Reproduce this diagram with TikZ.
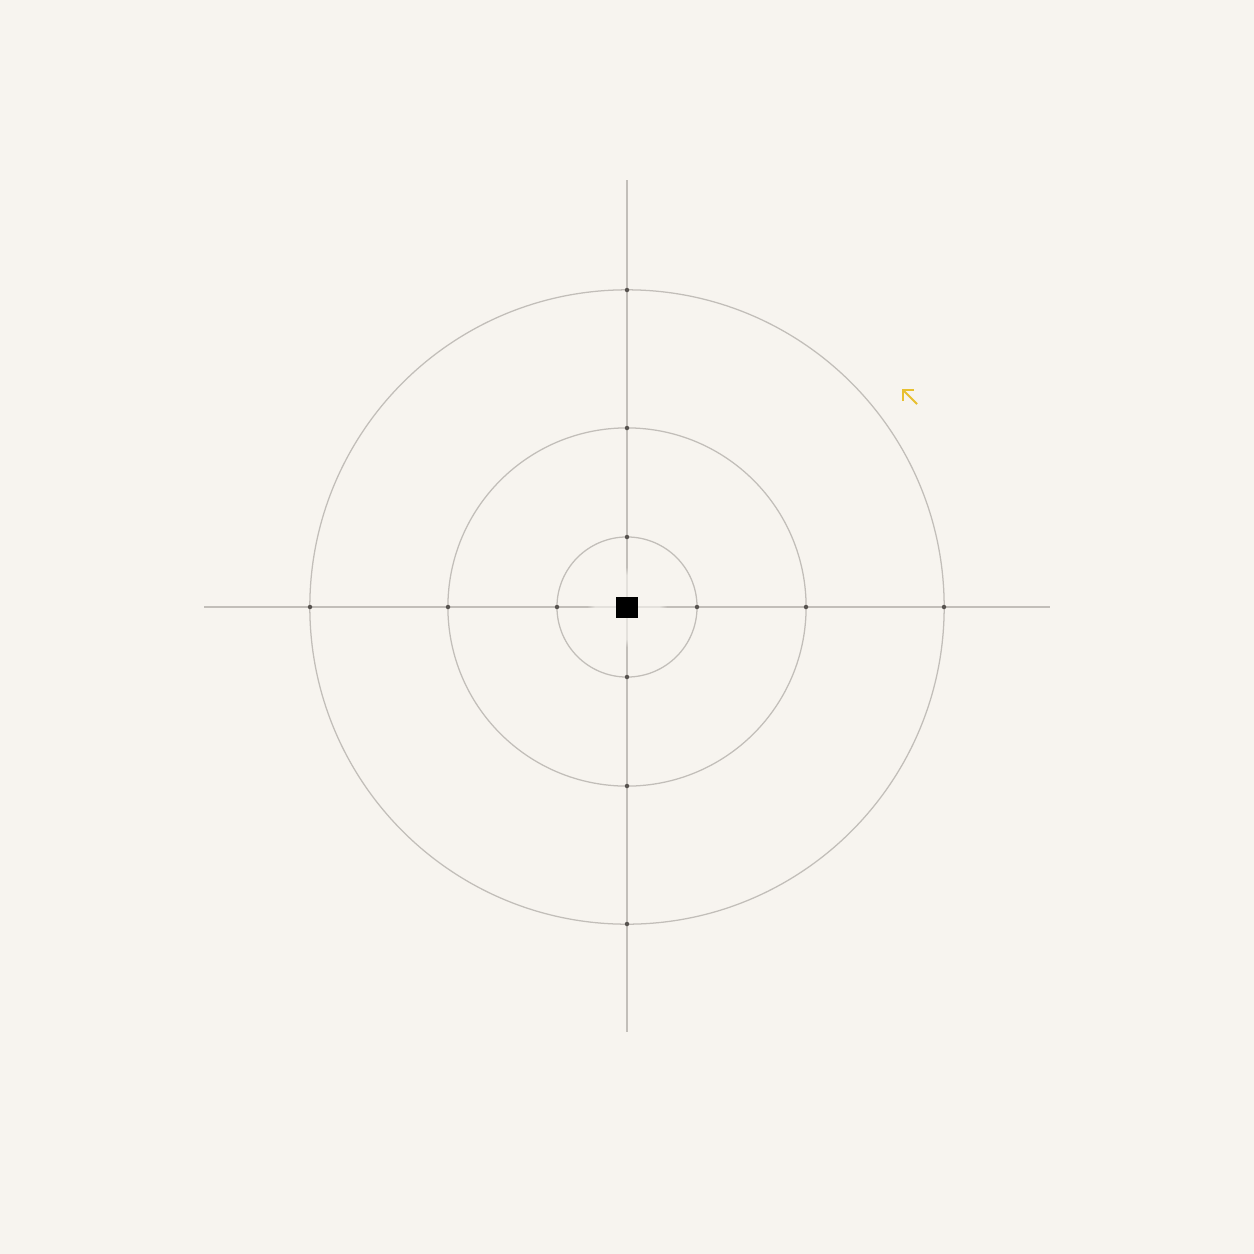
\documentclass[tikz,border=0pt]{standalone}
\usepackage{xcolor}
\usepackage{tikz}
\usetikzlibrary{positioning,calc,arrows.meta,fadings}

\definecolor{paper}{HTML}{F7F4EF}
\definecolor{ringgray}{HTML}{C2BEB9}
\definecolor{dotgray}{HTML}{57534F}
\definecolor{goldmark}{HTML}{E8C030}

\begin{document}
\begin{tikzpicture}[
        x=0.01cm, y=-0.01cm,
        axis/.style={draw=ringgray, line width=0.32pt},
        ring/.style={draw=ringgray, line width=0.36pt},
        tick/.style={circle, fill=dotgray, inner sep=0pt, minimum size=0.045cm},
        target/.style={rectangle, fill=black, inner sep=0pt, minimum size=0.21cm},
        pointer/.style={-{Straight Barb[angle=90:0.11cm]}, draw=goldmark, line width=0.6pt}
      ]
        % Canvas
        \fill[paper] (0,0) rectangle (1254,1254);
        \useasboundingbox (0,0) rectangle (1254,1254);

        % Centre and axis ends
        \coordinate (c) at (627,607);
        \coordinate (west) at (204,607);
        \coordinate (east) at (1050,607);
        \coordinate (north) at (627,180);
        \coordinate (south) at (627,1032);

        % Axes
        \draw[axis] (west) -- (east);
        \draw[axis] (north) -- (south);
        \fill[paper, opacity=0.65, path fading=circle with fuzzy edge 20 percent] (c) circle (0.4cm);

        % Rings
        \foreach \r in {0.70cm, 1.79cm, 3.17cm}
          \draw[ring] (c) circle (\r);

        % Ticks on the rings
        \foreach \r/\n in {70/inner, 179/mid, 317/outer} {
          \node[tick] (\n-e) at ($(c)+(\r,0)$) {};
          \node[tick] (\n-w) at ($(c)+(-\r,0)$) {};
          \node[tick] (\n-n) at ($(c)+(0,-\r)$) {};
          \node[tick] (\n-s) at ($(c)+(0,\r)$) {};
        }

        % Target
        \node[target] (centre) at (c) {};

        % Pointer
        \coordinate (tail) at (917,404);
        \coordinate (tip) at (902,389);
        \draw[pointer] (tail) -- (tip);
      \end{tikzpicture}
\end{document}
